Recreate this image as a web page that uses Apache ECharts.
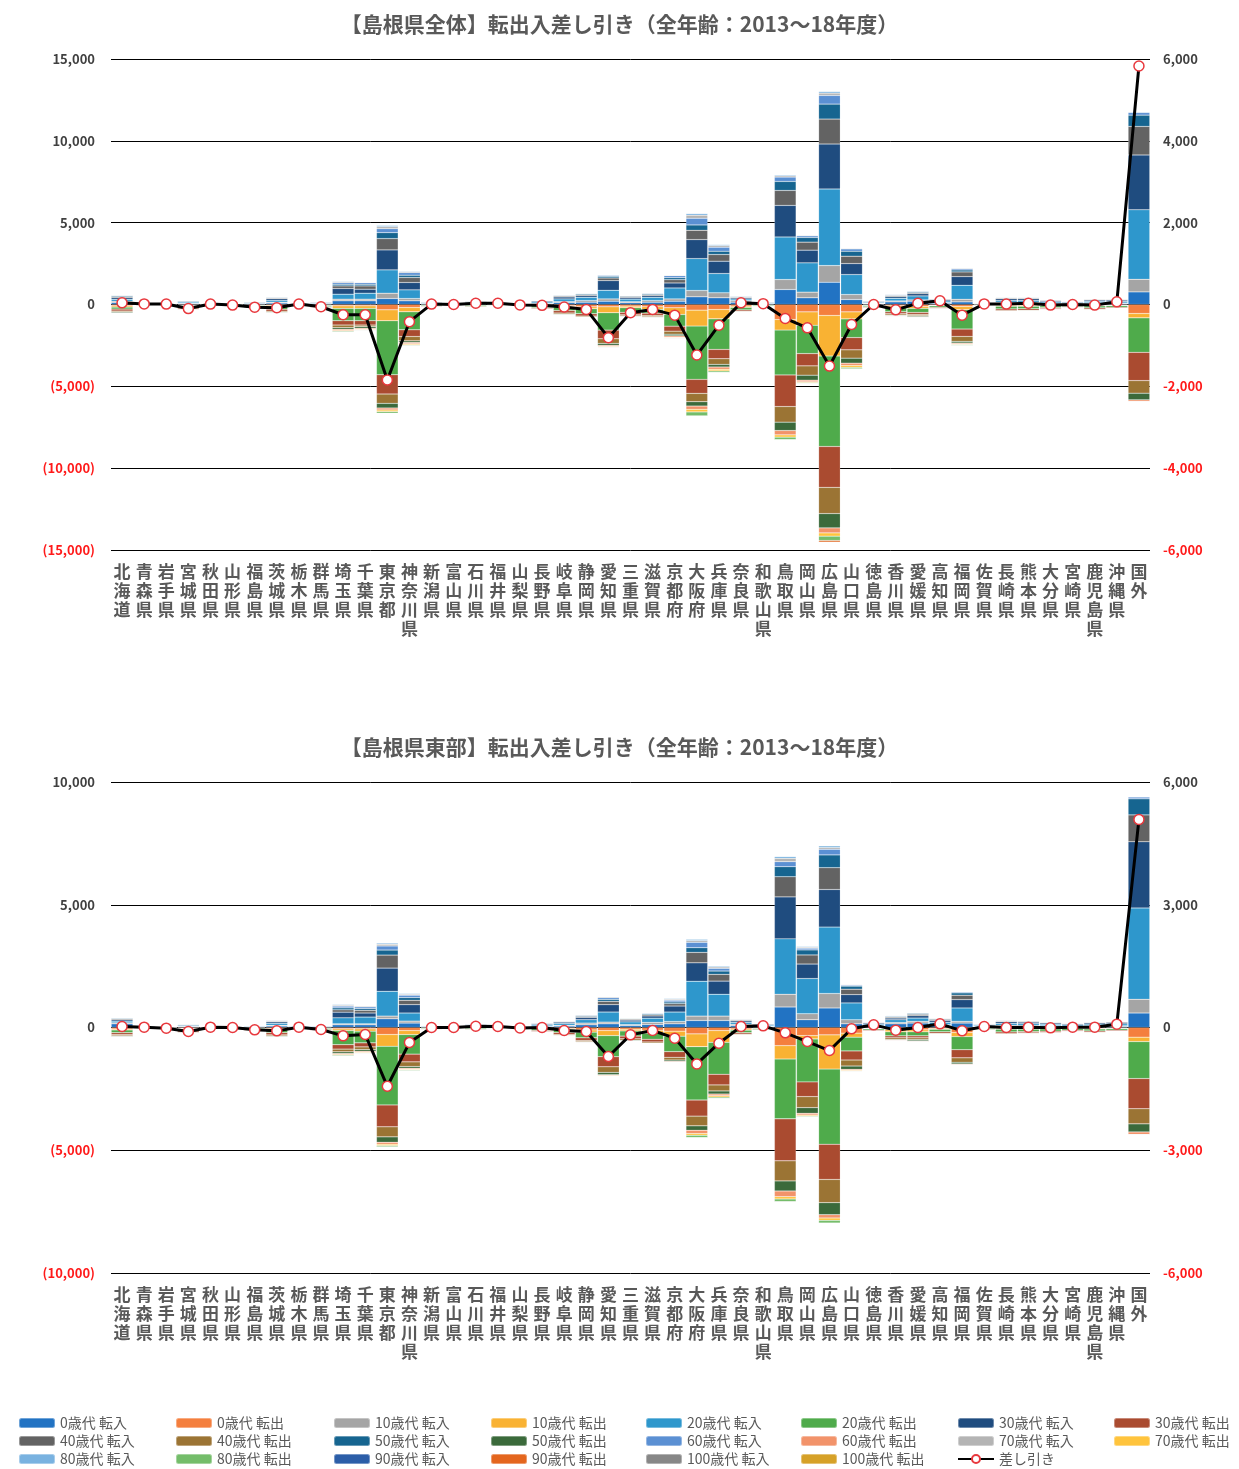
<!DOCTYPE html>
<html lang="ja">
<head>
<meta charset="utf-8">
<title>島根県 転出入差し引き</title>
<script src="https://cdn.jsdelivr.net/npm/echarts@6/dist/echarts.min.js"></script>
<style>
  html, body { margin: 0; padding: 0; background: #ffffff; }
  #chart { width: 1239px; height: 1469px; }
</style>
</head>
<body>
<div id="chart"></div>
<script>
// 転出先・転入元（都道府県＋国外）
const categories = ['北海道','青森県','岩手県','宮城県','秋田県','山形県','福島県','茨城県','栃木県','群馬県',
  '埼玉県','千葉県','東京都','神奈川県','新潟県','富山県','石川県','福井県','山梨県','長野県',
  '岐阜県','静岡県','愛知県','三重県','滋賀県','京都府','大阪府','兵庫県','奈良県','和歌山県',
  '鳥取県','岡山県','広島県','山口県','徳島県','香川県','愛媛県','高知県','福岡県','佐賀県',
  '長崎県','熊本県','大分県','宮崎県','鹿児島県','沖縄県','国外'];

const ages = ['0歳代','10歳代','20歳代','30歳代','40歳代','50歳代','60歳代','70歳代','80歳代','90歳代','100歳代'];

// ---- 島根県全体：年代別 転入（人） ----
const all_in_00 = [120,30,20,60,20,15,40,90,30,40, 225,225,365,225,40,20,40,30,15,60, 120,140,200,110,140,200,470,410,140,40, 915,410,1360,305,50,160,200,80,160,30, 90,90,60,45,70,60,770];
const all_in_10 = [80,10,10,20,10,5,20,50,15,20, 100,100,325,140,20,10,20,15,5,30, 60,100,140,60,100,140,385,305,100,20, 610,345,1020,305,25,60,80,40,160,15, 50,50,30,20,35,30,770];
const all_in_20 = [120,30,30,70,20,15,50,110,40,50, 305,365,1425,530,50,25,70,40,15,80, 160,200,530,160,200,670,1950,1180,100,50, 2600,1790,4680,1220,60,160,245,100,855,35, 110,110,80,60,90,100,4245];
const all_in_30 = [100,20,20,50,10,10,40,100,30,40, 345,245,1220,450,40,15,50,30,10,60, 120,100,590,100,100,305,1160,750,80,40, 1930,775,2745,670,50,100,140,80,530,25, 100,100,70,45,75,80,3350];
const all_in_40 = [60,10,10,30,10,5,20,50,15,20, 160,200,690,305,20,10,20,15,5,30, 60,60,160,60,60,200,570,410,40,20, 915,490,1525,450,25,60,60,40,285,15, 50,50,35,20,40,40,1745];
const all_in_50 = [60,10,10,20,10,5,15,40,10,15, 100,100,365,140,15,5,15,10,5,20, 40,60,100,40,60,120,325,200,40,15, 550,285,915,305,20,40,60,30,120,10, 35,35,25,15,25,20,690];
const all_in_60 = [30,10,0,10,0,5,10,30,10,10, 100,100,245,160,10,5,10,10,5,15, 30,30,60,25,40,120,410,245,30,10, 265,100,530,140,15,40,40,20,80,10, 25,25,15,15,15,15,160];
const all_in_70 = [20,0,0,5,0,0,5,20,0,5, 60,25,120,60,5,0,5,0,0,10, 20,20,30,15,10,40,185,100,10,5, 80,40,140,40,5,10,10,10,40,0, 10,10,10,5,10,5,0];
const all_in_80 = [10,0,0,0,0,0,0,0,0,0, 40,15,80,40,0,0,0,0,0,0, 0,0,10,0,0,20,100,60,0,0, 60,20,100,20,0,0,0,0,20,0, 0,0,0,0,0,0,0];
const all_in_90 = [0,0,0,0,0,0,0,0,0,0, 0,0,10,0,0,0,0,0,0,0, 0,0,0,0,0,0,10,0,0,0, 0,0,20,0,0,0,0,0,0,0, 0,0,0,0,0,0,0];
const all_in_100 = [0,0,0,0,0,0,0,0,0,0, 0,0,0,0,0,0,0,0,0,0, 0,0,0,0,0,0,0,0,0,0, 0,0,10,0,0,0,0,0,0,0, 0,0,0,0,0,0,0];

// ---- 島根県全体：年代別 転出（人、負値） ----
const all_out_00 = [-80,-20,-20,-40,-10,-10,-30,-60,-20,-30, -80,-80,-325,-180,-30,-15,-30,-20,-10,-50, -80,-140,-140,-100,-140,-200,-345,-305,-100,-30, -915,-450,-670,-450,-35,-80,-120,-50,-120,-20, -60,-60,-50,-30,-50,-40,-550];
const all_out_10 = [-80,-10,-10,-30,-10,-10,-30,-50,-15,-25, -160,-160,-670,-265,-20,-10,-20,-10,-5,-30, -60,-120,-365,-100,-160,-410,-975,-570,-80,-20, -650,-820,-2480,-430,-25,-100,-120,-30,-200,-15, -50,-50,-30,-20,-35,-30,-265];
const all_out_20 = [-120,-30,-20,-120,-20,-20,-80,-180,-40,-80, -750,-750,-3295,-1100,-60,-30,-70,-40,-25,-115, -230,-305,-1060,-280,-230,-715,-3255,-1870,-150,-60, -2740,-1730,-5525,-1140,-80,-265,-245,-100,-1180,-40, -160,-150,-110,-80,-120,-100,-2110];
const all_out_30 = [-120,-20,-20,-80,-10,-15,-50,-120,-30,-50, -265,-265,-1180,-410,-40,-15,-40,-25,-15,-60, -150,-140,-530,-150,-140,-305,-855,-570,-80,-30, -1930,-750,-2500,-750,-50,-120,-120,-60,-450,-25, -100,-90,-70,-45,-80,-60,-1725];
const all_out_40 = [-60,-10,-10,-40,-10,-10,-30,-60,-15,-30, -160,-100,-570,-265,-20,-10,-20,-10,-5,-30, -70,-60,-285,-70,-80,-185,-510,-345,-40,-20, -955,-570,-1600,-510,-25,-80,-80,-30,-305,-10, -40,-40,-35,-20,-40,-30,-770];
const all_out_50 = [-60,-10,-10,-30,-10,-5,-20,-40,-10,-20, -100,-100,-285,-100,-10,-5,-10,-10,-5,-20, -40,-30,-120,-40,-40,-100,-265,-160,-30,-10, -510,-305,-875,-305,-20,-40,-60,-20,-100,-10, -30,-30,-25,-15,-25,-15,-405];
const all_out_60 = [-20,-10,0,-15,0,-5,-15,-30,-10,-10, -80,-60,-120,-80,-5,-5,-10,-5,-5,-10, -20,-20,-60,-20,-20,-80,-200,-140,-10,-5, -265,-100,-305,-140,-10,-40,-40,-10,-60,-5, -10,-10,-10,-10,-15,-5,-100];
const all_out_70 = [-10,0,0,-10,0,0,-10,-20,0,-10, -40,-40,-100,-60,-5,0,0,0,0,-10, -10,-15,-40,-10,-10,-40,-160,-100,-10,-5, -140,-50,-200,-120,-5,-15,-10,-10,-40,0, -10,-10,-10,-5,-10,-5,0];
const all_out_80 = [-10,0,0,0,0,0,0,-10,0,0, -60,-40,-100,-60,0,0,0,0,0,0, -10,0,-40,0,-10,-40,-245,-100,0,0, -160,-50,-265,-100,0,-10,0,0,-60,0, 0,0,0,0,0,0,0];
const all_out_90 = [0,0,0,0,0,0,0,0,0,0, 0,0,-20,0,0,0,0,0,0,0, 0,0,0,0,0,0,-20,0,0,0, -20,0,-100,0,0,0,0,0,0,0, 0,0,0,0,0,0,0];
const all_out_100 = [0,0,0,0,0,0,0,0,0,0, 0,0,0,0,0,0,0,0,0,0, 0,0,0,0,0,0,0,0,0,0, 0,0,-20,0,0,0,0,0,0,0, 0,0,0,0,0,0,0];

// 島根県全体：差し引き（右軸）
const all_net = [40,15,10,-100,10,-15,-65,-80,10,-55, -250,-250,-1845,-420,10,0,30,30,-10,-20, -60,-120,-810,-200,-120,-260,-1235,-505,40,20, -340,-570,-1505,-490,0,-130,30,90,-260,15, 10,30,-15,0,-15,65,5830];

// ---- 島根県東部：年代別 転入（人） ----
const east_in_00 = [150,25,15,30,10,10,20,60,25,25, 110,110,355,180,25,10,30,25,10,45, 60,110,150,80,120,150,285,285,80,35, 835,315,795,150,50,150,180,75,180,35, 60,55,45,40,50,45,590];
const east_in_10 = [40,10,5,15,5,5,10,30,10,10, 40,40,110,80,10,5,15,10,5,20, 30,70,70,40,90,95,180,180,50,20, 520,245,590,165,25,55,70,40,70,15, 30,30,25,20,25,25,560];
const east_in_20 = [70,30,20,40,15,10,30,80,30,30, 245,275,1010,330,30,10,45,30,10,55, 75,140,410,110,170,385,1420,890,80,45, 2255,1435,2705,685,60,110,135,100,545,40, 80,75,65,55,65,80,3720];
const east_in_30 = [55,20,15,30,10,5,20,60,20,20, 230,165,945,340,20,5,30,20,5,40, 55,90,300,70,90,245,750,535,60,35, 1710,590,1530,340,45,70,95,75,340,30, 65,60,50,40,50,55,2695];
const east_in_40 = [40,10,5,15,5,5,10,30,10,10, 95,110,530,180,10,5,15,10,5,20, 25,40,135,40,50,95,425,275,35,20, 820,370,890,220,25,40,55,40,180,15, 30,30,25,20,25,30,1095];
const east_in_50 = [30,10,5,10,5,5,10,25,10,10, 80,70,205,110,10,5,15,10,5,15, 20,35,80,25,40,70,190,135,25,15, 410,205,520,125,20,30,40,30,95,15, 25,20,15,15,15,15,655];
const east_in_60 = [15,5,5,10,5,0,10,20,5,5, 70,70,165,95,5,0,10,5,0,10, 15,25,70,15,30,70,220,110,15,10, 205,70,230,40,15,25,15,20,40,10, 15,10,10,10,10,10,70];
const east_in_70 = [10,0,0,0,0,0,0,10,0,0, 40,35,70,40,0,0,0,0,0,5, 5,10,35,10,10,40,70,55,10,0, 135,40,70,25,5,0,0,5,15,0, 5,5,5,5,5,0,0];
const east_in_80 = [10,0,0,0,0,0,0,0,0,0, 30,20,50,30,0,0,0,0,0,0, 0,0,20,0,0,30,55,40,0,0, 70,30,70,15,0,0,0,0,10,0, 0,0,0,0,0,0,0];
const east_in_90 = [0,0,0,0,0,0,0,0,0,0, 0,0,10,0,0,0,0,0,0,0, 0,0,0,0,0,0,10,0,0,0, 0,0,10,0,0,0,0,0,0,0, 0,0,0,0,0,0,0];
const east_in_100 = [0,0,0,0,0,0,0,0,0,0, 0,0,0,0,0,0,0,0,0,0, 0,0,0,0,0,0,0,0,0,0, 0,0,0,0,0,0,0,0,0,0, 0,0,0,0,0,0,0];

// ---- 島根県東部：年代別 転出（人、負値） ----
const east_out_00 = [-60,-15,-10,-30,-10,-5,-20,-40,-15,-20, -55,-55,-285,-125,-15,-5,-20,-15,-5,-30, -45,-100,-125,-70,-110,-150,-260,-125,-60,-25, -740,-330,-300,-230,-30,-95,-95,-45,-205,-20, -40,-40,-35,-25,-35,-25,-395];
const east_out_10 = [-40,-10,-10,-25,-5,-5,-15,-40,-10,-15, -70,-95,-480,-165,-10,-5,-10,-10,-5,-20, -35,-90,-205,-70,-120,-205,-520,-480,-50,-15, -545,-135,-1395,-165,-20,-80,-80,-30,-165,-15, -30,-30,-25,-20,-25,-20,-180];
const east_out_20 = [-110,-30,-25,-80,-15,-10,-55,-130,-30,-50, -575,-475,-2390,-795,-35,-10,-45,-25,-15,-70, -125,-230,-860,-210,-250,-630,-2175,-1300,-100,-45, -2435,-1750,-3060,-560,-55,-165,-165,-100,-535,-45, -110,-95,-90,-70,-80,-65,-1505];
const east_out_30 = [-80,-20,-15,-55,-10,-10,-35,-90,-20,-35, -180,-165,-890,-315,-25,-10,-25,-15,-10,-45, -80,-110,-410,-110,-110,-230,-655,-435,-60,-25, -1710,-600,-1435,-370,-35,-80,-80,-60,-330,-25, -65,-55,-50,-40,-50,-40,-1230];
const east_out_40 = [-50,-10,-10,-30,-5,-5,-20,-45,-10,-20, -110,-110,-410,-190,-10,-5,-15,-10,-5,-20, -35,-50,-230,-60,-50,-110,-395,-245,-30,-15, -820,-450,-945,-245,-20,-70,-70,-30,-180,-15, -30,-25,-25,-20,-25,-20,-615];
const east_out_50 = [-30,-10,-10,-15,-5,-5,-15,-30,-10,-10, -70,-70,-220,-70,-10,-5,-10,-5,-5,-15, -20,-25,-95,-30,-20,-55,-180,-125,-15,-10, -410,-230,-490,-135,-10,-25,-55,-20,-70,-10, -20,-15,-15,-10,-10,-5,-330];
const east_out_60 = [-15,-5,-5,-10,0,0,-10,-15,-5,-10, -40,-40,-80,-40,-5,0,-5,-5,-5,-5, -10,-10,-30,-15,-10,-30,-135,-70,-10,-5, -230,-70,-135,-40,-5,-30,-35,-10,-30,-5, -10,-10,-10,-10,-10,-5,-110];
const east_out_70 = [-10,0,0,-5,0,0,0,-10,0,0, -30,-30,-55,-30,0,0,0,0,0,-5, -10,-5,-25,-5,-5,-15,-70,-55,-5,0, -95,-40,-95,-30,-5,0,-10,0,-20,0, -5,-5,0,0,0,0,0];
const east_out_80 = [-5,0,0,0,0,0,0,0,0,0, -40,-25,-55,-40,0,0,0,0,0,0, 0,0,-15,0,0,-10,-95,-55,0,0, -110,-40,-110,-25,0,0,0,0,-20,0, 0,0,0,0,0,0,0];
const east_out_90 = [0,0,0,0,0,0,0,0,0,0, 0,0,-10,0,0,0,0,0,0,0, 0,0,0,0,0,0,-15,0,0,0, -20,0,-20,0,0,0,0,0,0,0, 0,0,0,0,0,0,0];
const east_out_100 = [0,0,0,0,0,0,0,0,0,0, 0,0,0,0,0,0,0,0,0,0, 0,0,0,0,0,0,0,0,0,0, 0,0,0,0,0,0,0,0,0,0, 0,0,0,0,0,0,0];

// 島根県東部：差し引き（右軸）
const east_net = [25,8,-16,-98,8,0,-57,-82,8,-49, -204,-171,-1437,-368,0,0,30,25,-10,0, -73,-98,-710,-180,-73,-260,-890,-384,24,40, -130,-343,-563,-33,65,-65,0,90,-82,25, 0,8,-8,8,8,82,5086];

// 軸の目盛
const leftTicks1 = { min: -15000, max: 15000, interval: 5000 };
const rightTicks1 = { min: -6000, max: 6000, interval: 2000 };
const leftTicks2 = { min: -10000, max: 10000, interval: 5000 };
const rightTicks2 = { min: -6000, max: 6000, interval: 3000 };

const allIn = [all_in_00, all_in_10, all_in_20, all_in_30, all_in_40, all_in_50, all_in_60, all_in_70, all_in_80, all_in_90, all_in_100];
const allOut = [all_out_00, all_out_10, all_out_20, all_out_30, all_out_40, all_out_50, all_out_60, all_out_70, all_out_80, all_out_90, all_out_100];
const eastIn = [east_in_00, east_in_10, east_in_20, east_in_30, east_in_40, east_in_50, east_in_60, east_in_70, east_in_80, east_in_90, east_in_100];
const eastOut = [east_out_00, east_out_10, east_out_20, east_out_30, east_out_40, east_out_50, east_out_60, east_out_70, east_out_80, east_out_90, east_out_100];

const inColors  = ['#2273c3','#a5a5a5','#2e97cc','#1f4c7f','#636363','#166590','#5b90d3','#b4b4b4','#79b2e0','#2c5ea8','#878787'];
const outColors = ['#f47f3e','#f9b233','#4fab4b','#aa4b30','#9b7434','#3b6a3b','#f2936a','#ffc43d','#74bd6a','#e4661e','#d6a128'];

const FONT = '"Noto Sans CJK JP", "Noto Sans", sans-serif';
const TEXT_GRAY = '#595959';
const NEG_RED = '#ff1a1a';

function thousands(v) {
  return String(Math.abs(v)).replace(/\B(?=(\d{3})+(?!\d))/g, ',');
}
function leftLabel(v) {
  return v < 0 ? '{n|(' + thousands(v) + ')}' : thousands(v);
}
function rightLabel(v) {
  return v < 0 ? '{n|-' + thousands(v) + '}' : thousands(v);
}

const axisLabelBase = {
  fontFamily: FONT, fontSize: 13, fontWeight: 'bold', color: '#404040',
  rich: { n: { fontFamily: FONT, fontSize: 13, fontWeight: 'bold', color: NEG_RED } }
};

function makeYAxes(gridIndex, leftT, rightT) {
  return [
    {
      type: 'value', gridIndex, position: 'left',
      min: leftT.min, max: leftT.max, interval: leftT.interval,
      axisLine: { show: false }, axisTick: { show: false },
      splitLine: { show: true, lineStyle: { color: '#000000', width: 1 } },
      axisLabel: Object.assign({ margin: 16, formatter: leftLabel }, axisLabelBase)
    },
    {
      type: 'value', gridIndex, position: 'right',
      min: rightT.min, max: rightT.max, interval: rightT.interval,
      axisLine: { show: false }, axisTick: { show: false },
      splitLine: { show: false },
      axisLabel: Object.assign({ margin: 13, formatter: rightLabel }, axisLabelBase)
    }
  ];
}

function makeXAxis(gridIndex) {
  return {
    type: 'category', gridIndex, data: categories, position: 'bottom',
    axisLine: { show: false, onZero: false }, axisTick: { show: false },
    axisLabel: {
      interval: 0, margin: 12, fontFamily: FONT, fontSize: 17, fontWeight: 'bold',
      color: TEXT_GRAY, lineHeight: 19, verticalAlign: 'top',
      formatter: (name) => name.split('').join('\n')
    }
  };
}

const series = [];
function addBars(ins, outs, stack, axisIdx, yIdx) {
  ages.forEach((age, i) => {
    [[ins[i], age + ' 転入', inColors[i]], [outs[i], age + ' 転出', outColors[i]]].forEach(([data, name, color]) => {
      series.push({
        type: 'bar', name, stack, data,
        xAxisIndex: axisIdx, yAxisIndex: yIdx,
        barCategoryGap: '2%',
        itemStyle: { color, borderColor: 'rgba(255,255,255,0.35)', borderWidth: 0.5 },
        emphasis: { disabled: true }
      });
    });
  });
}
function addNet(data, axisIdx, yIdx) {
  series.push({
    type: 'line', name: '差し引き', data,
    xAxisIndex: axisIdx, yAxisIndex: yIdx, z: 10,
    symbol: 'circle', symbolSize: 10,
    lineStyle: { color: '#000000', width: 3 },
    itemStyle: { color: '#ffffff', borderColor: '#e8383d', borderWidth: 1.5 },
    emphasis: { disabled: true }
  });
}

addBars(allIn, allOut, 'all', 0, 0);
addNet(all_net, 0, 1);
addBars(eastIn, eastOut, 'east', 1, 2);
addNet(east_net, 1, 3);

// 凡例：3段×8列の格子に一項目ずつ配置
const legendNames = [];
ages.forEach(a => { legendNames.push(a + ' 転入', a + ' 転出'); });
legendNames.push('差し引き');

const legendCols = [18, 175, 333, 490, 645, 800, 957, 1113];
const legendRows = [1416, 1434, 1452];
const legends = legendNames.map((name, k) => ({
  data: [name],
  left: legendCols[k % 8], top: legendRows[Math.floor(k / 8)],
  itemWidth: 36, itemHeight: 10, padding: 0, selectedMode: false,
  textStyle: { fontFamily: FONT, fontSize: 14, color: TEXT_GRAY }
}));

const option = {
  animation: false,
  backgroundColor: '#ffffff',
  title: [
    {
      text: '【島根県全体】転出入差し引き（全年齢：2013～18年度）',
      left: 'center', top: 9,
      textStyle: { fontFamily: FONT, fontSize: 21, fontWeight: 'bold', color: TEXT_GRAY }
    },
    {
      text: '【島根県東部】転出入差し引き（全年齢：2013～18年度）',
      left: 'center', top: 732,
      textStyle: { fontFamily: FONT, fontSize: 21, fontWeight: 'bold', color: TEXT_GRAY }
    }
  ],
  legend: legends,
  grid: [
    { left: 111, right: 89, top: 59, height: 491 },
    { left: 111, right: 89, top: 782, height: 491 }
  ],
  xAxis: [makeXAxis(0), makeXAxis(1)],
  yAxis: makeYAxes(0, leftTicks1, rightTicks1).concat(makeYAxes(1, leftTicks2, rightTicks2)),
  series
};

const chart = echarts.init(document.getElementById('chart'), null, { renderer: 'canvas' });
chart.setOption(option);
</script>
</body>
</html>
